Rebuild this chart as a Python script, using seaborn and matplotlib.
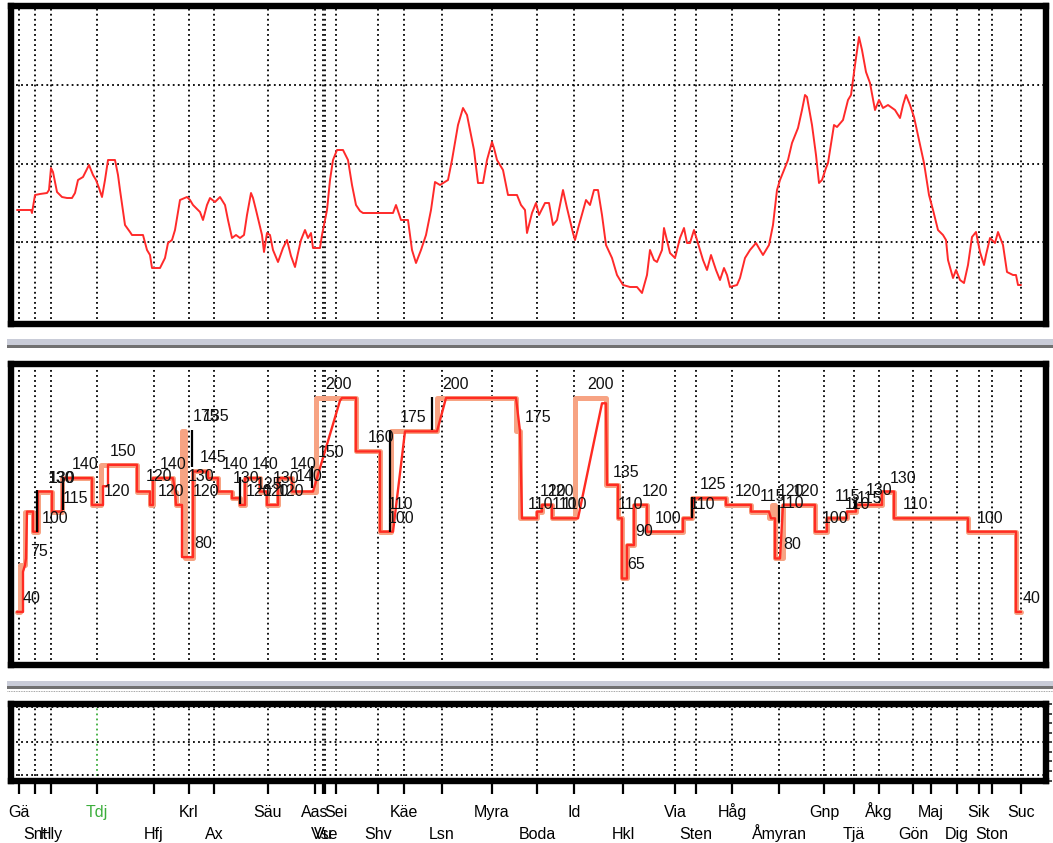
import numpy as np
import pandas as pd
import matplotlib
matplotlib.use("Agg")
import matplotlib.pyplot as plt
import seaborn as sns
from matplotlib.patches import Rectangle
from matplotlib.lines import Line2D

sns.set_style("white")
plt.rcParams["font.family"] = ["Liberation Sans", "DejaVu Sans"]

# stations along the line (position, name, label row)
station_x = [19, 35, 51, 97, 154, 189, 214, 268, 315, 323, 325, 336, 378, 404, 442, 492,
             537, 574, 623, 675, 696, 732, 779, 824, 854, 879, 913, 931, 957, 979, 992, 1021]
station_names = ["Gä", "Snt", "Hly", "Tdj", "Hfj", "Krl", "Ax", "Säu", "Aas", "Vu", "Vse", "Sei",
                 "Shv", "Käe", "Lsn", "Myra", "Boda", "Id", "Hkl", "Via", "Sten", "Håg", "Åmyran",
                 "Gnp", "Tjä", "Åkg", "Gön", "Maj", "Dig", "Sik", "Ston", "Suc"]
station_row = [1, 2, 2, 1, 2, 1, 2, 1, 1, 2, 2, 1, 2, 1, 2, 1,
               2, 1, 2, 1, 2, 1, 2, 1, 2, 1, 2, 1, 2, 1, 2, 1]
current_station = "Tdj"

# elevation profile
elev_x = [17, 31, 32, 35, 40, 47, 49, 51, 53, 57, 62, 67, 72, 75, 78, 83, 89, 93, 96, 99,
          102, 105, 108, 115, 118, 120, 125, 130, 132, 143, 147, 150, 152, 160, 165, 168, 172, 175, 180, 187,
          190, 193, 200, 203, 207, 210, 215, 220, 225, 228, 232, 236, 240, 244, 247, 251, 253, 256, 262, 264,
          267, 270, 273, 278, 283, 287, 291, 295, 298, 301, 305, 308, 311, 313, 320, 322, 327, 330, 333, 337,
          343, 348, 352, 356, 360, 363, 393, 396, 401, 408, 412, 416, 421, 426, 431, 435, 440, 448, 452, 458,
          463, 467, 470, 474, 478, 483, 487, 492, 494, 497, 503, 508, 517, 521, 525, 527, 532, 536, 539, 545,
          549, 553, 557, 563, 567, 573, 575, 579, 586, 590, 594, 598, 602, 606, 612, 617, 623, 630, 637, 642,
          647, 650, 654, 657, 662, 664, 670, 675, 680, 684, 687, 690, 694, 697, 703, 707, 711, 716, 720, 724,
          727, 730, 737, 740, 745, 750, 756, 760, 763, 769, 773, 777, 780, 788, 792, 798, 802, 805, 807, 812,
          816, 819, 822, 826, 828, 834, 837, 843, 848, 851, 855, 859, 862, 866, 870, 875, 879, 883, 888, 895,
          900, 903, 906, 910, 914, 919, 924, 929, 933, 938, 943, 946, 948, 953, 956, 960, 964, 968, 972, 976,
          980, 984, 986, 990, 995, 998, 1003, 1007, 1013, 1016, 1018, 1021]
elev_h = [114, 114, 111, 129, 130, 131, 134, 156, 152, 132, 127, 126, 126, 131, 144, 147, 159, 149, 144, 136,
          127, 144, 164, 164, 149, 134, 99, 92, 89, 89, 74, 69, 56, 56, 66, 81, 84, 94, 124, 127,
          124, 119, 112, 104, 119, 126, 122, 127, 119, 104, 86, 89, 86, 89, 109, 131, 126, 114, 89, 72,
          91, 89, 74, 62, 76, 84, 68, 57, 71, 84, 94, 86, 91, 76, 76, 89, 114, 144, 164, 174,
          174, 164, 139, 119, 113, 111, 111, 119, 104, 104, 74, 61, 74, 89, 114, 142, 139, 144, 164, 199,
          216, 209, 194, 174, 141, 141, 164, 182, 176, 164, 154, 129, 129, 119, 114, 91, 111, 121, 109, 121,
          121, 99, 104, 134, 116, 91, 84, 99, 124, 119, 134, 134, 109, 79, 66, 49, 39, 37, 37, 31,
          49, 74, 64, 62, 74, 96, 71, 66, 86, 96, 81, 81, 94, 84, 64, 54, 69, 54, 44, 56,
          49, 37, 39, 46, 66, 74, 81, 74, 69, 79, 99, 134, 144, 164, 181, 196, 214, 229, 227, 199,
          169, 141, 144, 156, 161, 199, 197, 204, 224, 229, 259, 287, 274, 252, 241, 214, 224, 216, 219, 214,
          206, 219, 229, 219, 207, 184, 161, 129, 114, 94, 89, 84, 64, 46, 54, 44, 41, 59, 87, 92,
          72, 59, 69, 86, 81, 92, 79, 52, 49, 49, 39, 39]
elev_grid = [82, 160, 239]

# static speed limit (steps)
limit_x = [17, 20, 25, 33, 38, 52, 62, 92, 101, 137, 150, 153, 173, 176, 182, 185, 193, 208, 218, 232,
           240, 245, 260, 267, 278, 292, 316, 356, 380, 391, 437, 516, 520, 537, 542, 552, 575, 606, 618, 622,
           627, 634, 647, 683, 692, 726, 751, 769, 772, 775, 783, 815, 827, 847, 856, 882, 894, 968, 1016, 1021]
limit_v = [40, 75, 115, 100, 130, 115, 140, 120, 150, 130, 120, 140, 130, 120, 175, 80, 145, 140, 130, 125,
           120, 140, 130, 120, 140, 130, 200, 160, 100, 175, 200, 175, 110, 115, 120, 110, 200, 135, 110, 65,
           90, 120, 100, 110, 125, 120, 115, 110, 120, 80, 120, 100, 110, 115, 120, 130, 110, 100, 40, 40]

# speed profile with acceleration/braking
prof_x = [17, 23, 23, 25, 26, 27, 33, 33, 38, 38, 52, 52, 62, 63, 92, 92, 103, 103, 108, 108,
          137, 137, 150, 150, 153, 153, 173, 175, 176, 182, 182, 193, 193, 208, 208, 218, 218, 232, 232, 240,
          240, 245, 245, 260, 260, 267, 267, 278, 278, 292, 292, 313, 340, 342, 356, 356, 380, 380, 393, 405,
          437, 446, 516, 520, 522, 537, 537, 542, 542, 552, 552, 578, 602, 606, 607, 618, 618, 622, 622, 627,
          627, 634, 634, 647, 647, 683, 683, 692, 693, 726, 726, 751, 751, 769, 771, 775, 775, 780, 783, 815,
          815, 827, 827, 847, 847, 856, 856, 882, 882, 894, 894, 968, 968, 1016, 1016, 1021]
prof_v = [40, 40, 70, 75, 80, 115, 115, 100, 100, 130, 130, 115, 115, 140, 140, 120, 120, 134, 134, 150,
          150, 130, 130, 120, 120, 140, 140, 131, 120, 120, 81, 81, 145, 145, 140, 140, 130, 130, 125, 125,
          120, 120, 140, 140, 130, 130, 120, 120, 140, 140, 130, 130, 198, 200, 200, 160, 160, 100, 100, 175,
          175, 200, 200, 175, 110, 110, 115, 115, 120, 120, 110, 110, 196, 196, 135, 135, 110, 110, 65, 65,
          90, 90, 120, 120, 100, 100, 110, 110, 125, 125, 120, 120, 115, 115, 110, 110, 80, 80, 120, 120,
          100, 100, 110, 110, 115, 115, 120, 120, 130, 130, 110, 110, 100, 100, 40, 40]

# speed labels (left edge, level, text)
lab_x = [23, 30, 42, 48, 49, 63, 72, 110, 104, 146, 158, 160, 193, 203, 200, 188, 193, 194, 222, 233,
         246, 256, 252, 263, 273, 278, 290, 296, 318, 325, 368, 400, 388, 388, 442, 525, 528, 540, 548, 552,
         562, 587, 613, 618, 642, 635, 627, 655, 690, 700, 735, 760, 778, 793, 779, 783, 822, 835, 845, 857,
         866, 890, 903, 977, 1023]
lab_v = [40, 75, 100, 130, 130, 115, 140, 150, 120, 131, 120, 140, 176, 176, 145, 131, 120, 81, 140, 130,
         120, 125, 140, 120, 130, 120, 140, 131, 149, 200, 160, 175, 110, 100, 200, 175, 110, 120, 120, 110,
         110, 200, 134, 110, 120, 90, 65, 100, 110, 125, 120, 116, 120, 120, 111, 80, 100, 116, 110, 115,
         121, 130, 110, 100, 40]
lab_text = ["40", "75", "100", "130", "130", "115", "140", "150", "120", "120", "120", "140", "175", "135",
            "145", "130", "120", "80", "140", "130", "120", "125", "140", "120", "130", "120", "140", "140",
            "150", "200", "160", "175", "110", "100", "200", "175", "110", "120", "120", "110", "110", "200",
            "135", "110", "120", "90", "65", "100", "110", "125", "120", "115", "120", "120", "110", "80",
            "100", "115", "110", "115", "130", "130", "110", "100", "40"]

# black markers (position, low, high)
mark_x = [37, 63, 192, 240, 312, 390, 432, 692, 779, 855]
mark_lo = [100, 116, 148, 121, 133, 100, 176, 110, 107, 118]
mark_hi = [131, 141, 176, 141, 149, 176, 201, 126, 120, 124]

W, H = 1053, 843
fig = plt.figure(figsize=(W / 100, H / 100), dpi=100)


def px_rect(x0, y0, x1, y1):
    return [x0 / W, 1 - y1 / H, (x1 - x0) / W, (y1 - y0) / H]


ax_top = fig.add_axes(px_rect(10.5, 6, 1046, 324))
ax_mid = fig.add_axes(px_rect(10.5, 364.5, 1046, 664.5))
ax_bot = fig.add_axes(px_rect(10.5, 704, 1046, 780.5))

dots = (0, (1, 1.8))
green = "#3cae3c"

for ax in (ax_top, ax_mid, ax_bot):
    ax.set_xlim(10.5, 1046)
    ax.set_xticks([])
    ax.set_yticks([])
    ax.set_xlabel("")
    ax.set_ylabel("")
    for s in ax.spines.values():
        s.set_linewidth(4.6)
        s.set_color("black")
        s.set_zorder(10)
    for x, name in zip(station_x, station_names):
        if ax is ax_bot and name == current_station:
            ax.axvline(x, color=green, ls=dots, lw=1.3, zorder=1)
        else:
            ax.axvline(x, color="black", ls=dots, lw=1.3, zorder=1)

# top: elevation
ax_top.set_ylim(0, 318)
for h in elev_grid:
    ax_top.axhline(h, color="black", ls=dots, lw=1.3, zorder=1)
sns.lineplot(x=elev_x, y=elev_h, ax=ax_top, estimator=None, sort=False,
             color="#ff2a2a", lw=1.4, zorder=3)

# middle: speed
ax_mid.set_ylim(0.7, 225)
sns.lineplot(x=limit_x, y=limit_v, ax=ax_mid, estimator=None, sort=False,
             color="#f7a383", lw=3.6, drawstyle="steps-post", zorder=2)
sns.lineplot(x=prof_x, y=prof_v, ax=ax_mid, estimator=None, sort=False,
             color="#ff2b22", lw=1.7, zorder=3)
ax_mid.vlines(mark_x, mark_lo, mark_hi, color="black", lw=1.6, zorder=4)
for x, v, t in zip(lab_x, lab_v, lab_text):
    ax_mid.annotate(t, xy=(x, v), xytext=(0, 6.5), textcoords="offset points",
                    ha="left", va="baseline", fontsize=11.5, color="#111111", zorder=5)

# bottom: empty panel with station ticks
ax_bot.set_ylim(0, 1)
for h in [0.07, 0.5, 0.96]:
    ax_bot.axhline(h, color="black", ls=dots, lw=1.3, zorder=1)
ax_bot.set_xticks(station_x)
ax_bot.set_xticklabels([])
ax_bot.tick_params(axis="x", bottom=True, length=9, width=1.6, color="black", direction="out")
ax_bot.yaxis.tick_right()
ax_bot.set_yticks(np.linspace(0, 1, 9))
ax_bot.set_yticklabels([])
ax_bot.tick_params(axis="y", right=True, length=4, width=1.2, direction="out")
for tick, name in zip(ax_bot.xaxis.get_major_ticks(), station_names):
    if name == current_station:
        tick.tick1line.set_color(green)

for x, name, row in zip(station_x, station_names, station_row):
    off = -26.3 if row == 1 else -42.3
    ax_bot.annotate(name, xy=(x, 0), xycoords=("data", "axes fraction"),
                    xytext=(0, off), textcoords="offset points", ha="center", va="baseline",
                    fontsize=11.5, color=green if name == current_station else "black",
                    annotation_clip=False)

# separators between panels
for y0, y1, c in [(339.5, 345, "#c9ccd8"), (345, 348, "#717171"),
                  (681, 686, "#c9ccd8"), (686, 688.5, "#717171")]:
    fig.add_artist(Rectangle((7 / W, 1 - y1 / H), (W - 7) / W, (y1 - y0) / H,
                             transform=fig.transFigure, color=c, lw=0))
fig.add_artist(Line2D([7 / W, 1], [1 - 691 / H, 1 - 691 / H], transform=fig.transFigure,
                      ls=(0, (1, 1)), lw=0.6, color="#888888"))

fig.savefig("out.png", dpi=100)
